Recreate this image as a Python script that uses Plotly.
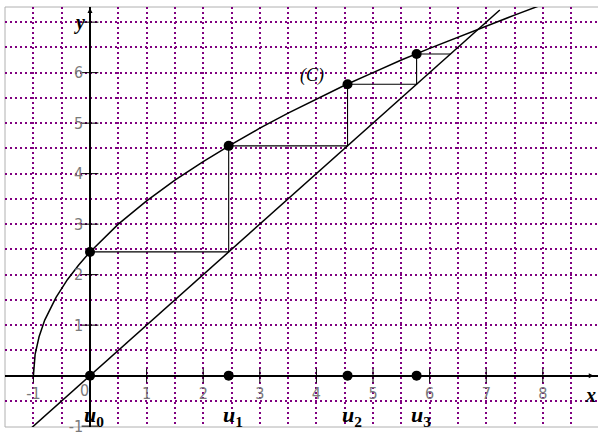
import plotly.graph_objects as go

# curve (C), points
curve_x = [-1, -0.99, -0.97, -0.9, -0.8, -0.6, -0.4, -0.2, 0, 0.5, 1, 1.5, 2, 2.5,
           3, 3.5, 4, 4.5, 5, 5.5, 6, 6.5, 7, 7.5, 8]
curve_y = [0, 0.25, 0.42, 0.77, 1.1, 1.55, 1.9, 2.19, 2.45, 3.0, 3.46, 3.87, 4.24, 4.58,
           4.9, 5.2, 5.48, 5.75, 6.0, 6.25, 6.48, 6.7, 6.93, 7.14, 7.35]

# line y = x
diag_x = [-1.1, 7.24]
diag_y = [-1.1, 7.24]

# terms of the sequence
u = [0, 2.45, 4.55, 5.77, 6.37]
u_names = ['0', '1', '2', '3']

x_ticks = [-1, 0, 1, 2, 3, 4, 5, 6, 7, 8]
y_ticks = [-1, 0, 1, 2, 3, 4, 5, 6, 7]
x_labels = [-1, 1, 2, 3, 4, 5, 6, 7, 8]
y_labels = [-1, 1, 2, 3, 4, 5, 6]

x_range = [-1.502, 8.975]
y_range = [-1.017, 7.30]

grid_col = '#800080'
grid_dash = '2px,3px'

# cobweb path
web_x = []
web_y = []
for k in range(len(u) - 2):
    web_x += [u[k], u[k + 1], u[k + 1]]
    web_y += [u[k + 1], u[k + 1], u[k + 2]]
web_x.append(u[-1])
web_y.append(u[-1])

fig = go.Figure()

fig.add_trace(go.Scatter(x=curve_x, y=curve_y, mode='lines',
                         line=dict(color='black', width=1.5), hoverinfo='skip'))
fig.add_trace(go.Scatter(x=diag_x, y=diag_y, mode='lines',
                         line=dict(color='black', width=1.5), hoverinfo='skip'))
fig.add_trace(go.Scatter(x=web_x, y=web_y, mode='lines',
                         line=dict(color='black', width=1.1), hoverinfo='skip'))

# tick marks crossing the axes
fig.add_trace(go.Scatter(x=x_ticks, y=[0] * len(x_ticks), mode='markers',
                         marker=dict(symbol='line-ns', size=10,
                                     line=dict(color='black', width=1)),
                         hoverinfo='skip'))
fig.add_trace(go.Scatter(x=[0] * len(y_ticks), y=y_ticks, mode='markers',
                         marker=dict(symbol='line-ew', size=12,
                                     line=dict(color='black', width=1)),
                         hoverinfo='skip'))

# points on the curve and on the x axis
fig.add_trace(go.Scatter(x=[0] + u[:-1], y=[0] + u[1:], mode='markers',
                         marker=dict(color='black', size=10)))
fig.add_trace(go.Scatter(x=u[1:-1], y=[0] * (len(u) - 2), mode='markers',
                         marker=dict(color='black', size=10)))

axis_font = dict(family='Liberation Sans Narrow, DejaVu Sans Condensed, sans-serif',
                 size=16, color='#7a7a7a')

fig.update_xaxes(range=x_range, anchor='free', automargin=False,
                 position=(0 - y_range[0]) / (y_range[1] - y_range[0]),
                 showline=True, linecolor='black', linewidth=1.5,
                 tickmode='array', tickvals=x_labels, ticktext=[str(v) for v in x_labels],
                 ticks='outside', ticklen=3, tickcolor='rgba(0,0,0,0)',
                 tickfont=axis_font, ticklabeloverflow='allow',
                 showgrid=True, gridcolor=grid_col, gridwidth=2, griddash=grid_dash,
                 minor=dict(dtick=0.5, tick0=0, showgrid=True, gridcolor=grid_col,
                            gridwidth=2, griddash=grid_dash),
                 zeroline=False)
fig.update_yaxes(range=y_range, anchor='free', automargin=False,
                 position=(0 - x_range[0]) / (x_range[1] - x_range[0]),
                 showline=True, linecolor='black', linewidth=1.5,
                 tickmode='array', tickvals=y_labels, ticktext=[str(v) for v in y_labels],
                 ticks='outside', ticklen=3, tickcolor='rgba(0,0,0,0)',
                 tickfont=axis_font, ticklabeloverflow='allow',
                 showgrid=True, gridcolor=grid_col, gridwidth=2, griddash=grid_dash,
                 minor=dict(dtick=0.5, tick0=0, showgrid=True, gridcolor=grid_col,
                            gridwidth=2, griddash=grid_dash),
                 zeroline=False)

notes = []
# "0" label next to the origin
notes.append(dict(x=0, y=0, text='0', showarrow=False, xanchor='center', yanchor='top',
                  xshift=-6, yshift=-3, font=axis_font))
# axis names
notes.append(dict(x=x_range[1], y=0, text='<b><i>x</i></b>', showarrow=False,
                  xanchor='right', yanchor='top', xshift=0, yshift=-6,
                  font=dict(family='Liberation Serif', size=20, color='black')))
notes.append(dict(x=0, y=7, text='<b><i>y</i></b>', showarrow=False,
                  xanchor='right', yanchor='middle', xshift=-3, yshift=0,
                  font=dict(family='Liberation Serif', size=20, color='black')))
# arrow heads
notes.append(dict(x=8.9, y=0, ax=-12, ay=0, text='', showarrow=True,
                  arrowhead=2, arrowsize=1, arrowwidth=1, arrowcolor='black'))
notes.append(dict(x=0, y=7.28, ax=0, ay=12, text='', showarrow=True,
                  arrowhead=2, arrowsize=1, arrowwidth=1, arrowcolor='black'))
# curve name
notes.append(dict(x=3.92, y=5.95, text='<i>(C)</i>', showarrow=False,
                  font=dict(family='Liberation Serif', size=18, color='black')))
# sequence labels
for val, name in zip(u[:-1], u_names):
    notes.append(dict(x=val, y=-0.8, text='<b><i>u</i><sub>' + name + '</sub></b>',
                      showarrow=False, xshift=4,
                      font=dict(family='Liberation Serif', size=22, color='black')))

fig.update_layout(
    width=598, height=432,
    margin=dict(l=5, r=0, t=7, b=5),
    plot_bgcolor='white', paper_bgcolor='white',
    showlegend=False,
    annotations=notes,
    shapes=[dict(type='rect', xref='paper', yref='paper', x0=0, x1=1.01, y0=0, y1=1,
                 line=dict(color='#b0b0b0', width=1), layer='below')],
)

fig.write_html("out.html", config={'displayModeBar': False},
               post_script="document.body.style.margin='0px';")
